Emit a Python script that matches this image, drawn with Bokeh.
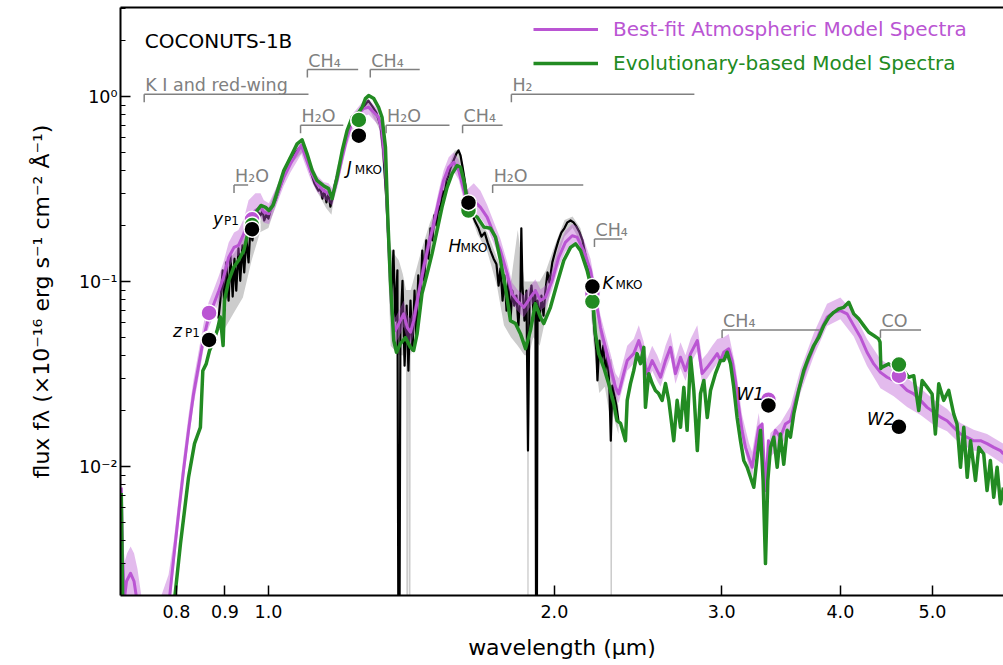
import numpy as np
from bokeh.plotting import figure
from bokeh.models import (ColumnDataSource, FixedTicker, CustomJSTickFormatter, Legend,
                          LegendItem, LinearAxis, Label)
from bokeh.core.properties import value
from bokeh.embed import file_html
from bokeh.resources import INLINE

# ---------------- data (wavelength in micron, flux in 1e-16 erg/s/cm2/A) ----------------
x_ticks = [0.8, 0.9, 1.0, 2.0, 3.0, 4.0, 5.0]
x_tick_labels = ["0.8", "0.9", "1.0", "2.0", "3.0", "4.0", "5.0"]
y_ticks = [0.01, 0.1, 1.0]
y_tick_labels = ["10\u207b\u00b2", "10\u207b\u00b9", "10\u2070"]

# evolutionary-based model spectrum (green)
evo_points = [
    (0.700, 0.0072), (0.703, 0.0014), (0.797, 0.00197), (0.808, 0.00382), (0.824, 0.00875),
    (0.836, 0.0133), (0.848, 0.0163), (0.853, 0.0330), (0.860, 0.0359), (0.867, 0.0424),
    (0.876, 0.0480), (0.883, 0.0543), (0.890, 0.0643), (0.896, 0.0451), (0.899, 0.0789),
    (0.908, 0.101), (0.919, 0.119), (0.930, 0.130), (0.942, 0.147), (0.951, 0.181),
    (0.961, 0.214), (0.973, 0.242), (0.982, 0.258), (0.993, 0.252), (1.001, 0.242),
    (1.011, 0.258), (1.025, 0.323), (1.038, 0.398), (1.055, 0.470), (1.072, 0.555),
    (1.085, 0.583), (1.098, 0.492), (1.112, 0.398), (1.125, 0.352), (1.143, 0.330),
    (1.157, 0.318), (1.167, 0.281), (1.181, 0.366), (1.196, 0.511), (1.210, 0.655),
    (1.225, 0.773), (1.245, 0.823), (1.255, 0.875), (1.265, 0.975), (1.275, 1.012),
    (1.291, 0.975), (1.306, 0.875), (1.317, 0.773), (1.328, 0.532), (1.335, 0.233),
    (1.344, 0.101), (1.355, 0.0480), (1.364, 0.0415), (1.377, 0.0462), (1.394, 0.0498),
    (1.411, 0.0441), (1.422, 0.0424), (1.434, 0.0523), (1.451, 0.0861), (1.469, 0.110),
    (1.487, 0.142), (1.505, 0.189), (1.523, 0.252), (1.542, 0.323), (1.561, 0.383),
    (1.580, 0.424), (1.593, 0.415), (1.606, 0.352), (1.619, 0.274), (1.638, 0.233),
    (1.659, 0.223), (1.686, 0.197), (1.713, 0.194), (1.734, 0.174), (1.755, 0.130),
    (1.776, 0.0932), (1.798, 0.0615), (1.820, 0.0593), (1.842, 0.0523), (1.865, 0.0434),
    (1.887, 0.0543), (1.910, 0.0760), (1.934, 0.0640), (1.949, 0.0593), (1.981, 0.0726),
    (2.013, 0.0976), (2.046, 0.130), (2.080, 0.153), (2.105, 0.160), (2.131, 0.147),
    (2.165, 0.115), (2.191, 0.0894), (2.209, 0.0523), (2.227, 0.0408), (2.254, 0.0344),
    (2.281, 0.0281), (2.309, 0.0220), (2.328, 0.0177), (2.348, 0.0171), (2.376, 0.0138),
    (2.386, 0.0228), (2.405, 0.0281), (2.424, 0.0330), (2.444, 0.0408), (2.464, 0.0360),
    (2.484, 0.0441), (2.494, 0.0209), (2.514, 0.0318), (2.535, 0.0281), (2.555, 0.0258),
    (2.575, 0.0248), (2.597, 0.0228), (2.618, 0.0281), (2.639, 0.0228), (2.671, 0.0138),
    (2.693, 0.0228), (2.715, 0.0163), (2.737, 0.0268), (2.759, 0.0157), (2.782, 0.0390),
    (2.804, 0.0258), (2.828, 0.0122), (2.850, 0.0248), (2.873, 0.0292), (2.897, 0.0184),
    (2.920, 0.0258), (2.955, 0.0318), (2.991, 0.0374), (3.015, 0.0374), (3.040, 0.0415),
    (3.065, 0.0360), (3.089, 0.0269), (3.114, 0.0185), (3.140, 0.0138), (3.165, 0.0108),
    (3.191, 0.00992), (3.217, 0.00875), (3.243, 0.00773), (3.269, 0.0112), (3.296, 0.0157),
    (3.317, 0.00840), (3.336, 0.00299), (3.355, 0.00840), (3.377, 0.0127), (3.404, 0.0144),
    (3.432, 0.00992), (3.459, 0.0150), (3.487, 0.0103), (3.516, 0.0157), (3.544, 0.0144),
    (3.573, 0.0193), (3.616, 0.0258), (3.660, 0.0330), (3.705, 0.0390), (3.750, 0.0451),
    (3.796, 0.0500), (3.842, 0.0578), (3.889, 0.0641), (3.937, 0.0682), (3.984, 0.0712),
    (4.033, 0.0726), (4.082, 0.0773), (4.132, 0.0669), (4.182, 0.0629), (4.233, 0.0578),
    (4.285, 0.0532), (4.337, 0.0511), (4.389, 0.0490), (4.404, 0.0470), (4.413, 0.0339),
    (4.422, 0.0344), (4.497, 0.0359), (4.552, 0.0344), (4.664, 0.0330), (4.721, 0.0304),
    (4.779, 0.0310), (4.837, 0.0201), (4.877, 0.0292), (4.936, 0.0269), (4.996, 0.0247),
    (5.036, 0.0150), (5.077, 0.0280), (5.138, 0.0228), (5.201, 0.0258), (5.264, 0.0193),
    (5.307, 0.0170), (5.352, 0.00992), (5.395, 0.0163), (5.440, 0.00875), (5.484, 0.0138),
    (5.550, 0.00840), (5.595, 0.0127), (5.662, 0.0117), (5.708, 0.00742), (5.754, 0.0108),
    (5.801, 0.00683), (5.849, 0.00992), (5.896, 0.00629), (5.939, 0.00770),
]

# best-fit atmospheric model spectrum (purple)
fit_points = [
    (0.700, 0.0077), (0.702, 0.0035), (0.705, 0.0019), (0.709, 0.0024), (0.716, 0.00265),
    (0.722, 0.0024), (0.727, 0.0019), (0.735, 0.0012), (0.787, 0.00197), (0.795, 0.00323),
    (0.805, 0.00578), (0.814, 0.00951), (0.824, 0.0157), (0.834, 0.0247), (0.845, 0.0359),
    (0.855, 0.0500), (0.865, 0.0641), (0.876, 0.0757), (0.887, 0.0894), (0.897, 0.1055),
    (0.908, 0.135), (0.920, 0.153), (0.930, 0.157), (0.942, 0.181), (0.953, 0.223),
    (0.969, 0.242), (0.981, 0.252), (0.989, 0.237), (1.001, 0.233), (1.017, 0.280),
    (1.038, 0.366), (1.055, 0.433), (1.083, 0.545), (1.107, 0.398), (1.125, 0.338),
    (1.143, 0.310), (1.157, 0.299), (1.167, 0.286), (1.181, 0.352), (1.196, 0.470),
    (1.210, 0.603), (1.225, 0.726), (1.245, 0.809), (1.259, 0.861), (1.275, 0.875),
    (1.291, 0.823), (1.306, 0.773), (1.317, 0.655), (1.328, 0.415), (1.339, 0.153),
    (1.349, 0.0669), (1.360, 0.0543), (1.377, 0.0615), (1.388, 0.0669), (1.400, 0.0566),
    (1.411, 0.0532), (1.422, 0.0615), (1.439, 0.0858), (1.457, 0.1195), (1.475, 0.160),
    (1.493, 0.205), (1.511, 0.274), (1.529, 0.352), (1.548, 0.415), (1.567, 0.441),
    (1.586, 0.398), (1.599, 0.338), (1.619, 0.263), (1.645, 0.274), (1.672, 0.252),
    (1.699, 0.223), (1.727, 0.181), (1.755, 0.147), (1.784, 0.110), (1.805, 0.0858),
    (1.827, 0.0789), (1.857, 0.0726), (1.887, 0.0822), (1.910, 0.0894), (1.934, 0.0789),
    (1.957, 0.0822), (1.989, 0.101), (2.021, 0.135), (2.054, 0.163), (2.088, 0.177),
    (2.113, 0.174), (2.147, 0.147), (2.183, 0.115), (2.209, 0.0822), (2.236, 0.0566),
    (2.263, 0.0441), (2.291, 0.0344), (2.319, 0.0269), (2.337, 0.0247), (2.366, 0.0318),
    (2.386, 0.0374), (2.424, 0.0408), (2.454, 0.0480), (2.484, 0.0390), (2.504, 0.0318),
    (2.535, 0.0374), (2.566, 0.0330), (2.587, 0.0304), (2.618, 0.0374), (2.650, 0.0441),
    (2.682, 0.0318), (2.715, 0.0390), (2.748, 0.0330), (2.782, 0.0408), (2.828, 0.0480),
    (2.861, 0.0318), (2.897, 0.0344), (2.932, 0.0374), (2.968, 0.0408), (2.991, 0.0374),
    (3.015, 0.0415), (3.052, 0.0433), (3.077, 0.0374), (3.102, 0.0292), (3.127, 0.0209),
    (3.152, 0.0157), (3.178, 0.0127), (3.204, 0.0112), (3.230, 0.00992), (3.256, 0.0127),
    (3.282, 0.0163), (3.309, 0.0170), (3.336, 0.00742), (3.360, 0.0138), (3.377, 0.0127),
    (3.418, 0.0157), (3.459, 0.0144), (3.501, 0.0170), (3.544, 0.0177), (3.587, 0.0228),
    (3.631, 0.0280), (3.690, 0.0359), (3.750, 0.0441), (3.811, 0.0543), (3.873, 0.0641),
    (3.937, 0.0682), (4.000, 0.0697), (4.066, 0.0669), (4.132, 0.0578), (4.200, 0.0500),
    (4.267, 0.0415), (4.337, 0.0359), (4.408, 0.0323), (4.480, 0.0304), (4.552, 0.0292),
    (4.627, 0.0280), (4.702, 0.0258), (4.779, 0.0247), (4.858, 0.0228), (4.936, 0.0209),
    (5.016, 0.0197), (5.099, 0.0185), (5.181, 0.0177), (5.264, 0.0163), (5.352, 0.0150),
    (5.440, 0.0144), (5.526, 0.0138), (5.618, 0.0138), (5.708, 0.0133), (5.801, 0.0127),
    (5.896, 0.0122), (5.939, 0.0117),
]

# uncertainty range of the best-fit model: (wavelength, low, high)
fit_band = [
    (0.700, 0.0060, 0.0092), (0.702, 0.0020, 0.0050), (0.705, 0.0012, 0.0030), (0.710, 0.0015, 0.0034),
    (0.716, 0.0018, 0.0037), (0.722, 0.0016, 0.0034), (0.728, 0.0012, 0.0028), (0.735, 0.0008, 0.0020),
    (0.745, 0.0006, 0.0012), (0.785, 0.0015, 0.0026), (0.795, 0.0028, 0.0040), (0.805, 0.0050, 0.0070),
    (0.814, 0.0083, 0.0115), (0.824, 0.0137, 0.0190), (0.834, 0.0215, 0.0295), (0.845, 0.031, 0.043),
    (0.855, 0.044, 0.060), (0.865, 0.056, 0.077), (0.876, 0.066, 0.091), (0.887, 0.078, 0.108),
    (0.897, 0.092, 0.128), (0.908, 0.118, 0.162), (0.920, 0.134, 0.184), (0.930, 0.138, 0.190),
    (0.942, 0.159, 0.218), (0.953, 0.196, 0.275), (0.969, 0.213, 0.300), (0.981, 0.222, 0.300),
    (0.989, 0.208, 0.275), (1.001, 0.205, 0.265), (1.017, 0.250, 0.315), (1.038, 0.330, 0.405),
    (1.055, 0.390, 0.480), (1.083, 0.490, 0.600), (1.107, 0.360, 0.440), (1.125, 0.305, 0.375),
    (1.143, 0.280, 0.345), (1.157, 0.268, 0.340), (1.167, 0.257, 0.320), (1.181, 0.318, 0.390),
    (1.196, 0.425, 0.520), (1.210, 0.545, 0.665), (1.225, 0.655, 0.800), (1.259, 0.780, 0.950),
    (1.275, 0.800, 0.960), (1.306, 0.700, 0.850), (1.328, 0.370, 0.460), (1.339, 0.137, 0.170),
    (1.349, 0.058, 0.076), (1.360, 0.046, 0.064), (1.377, 0.052, 0.072), (1.388, 0.057, 0.079),
    (1.400, 0.048, 0.066), (1.411, 0.045, 0.063), (1.422, 0.052, 0.071), (1.439, 0.075, 0.098),
    (1.457, 0.105, 0.137), (1.475, 0.142, 0.182), (1.493, 0.183, 0.232), (1.511, 0.245, 0.310),
    (1.529, 0.315, 0.398), (1.548, 0.372, 0.470), (1.567, 0.395, 0.500), (1.586, 0.355, 0.455),
    (1.599, 0.300, 0.390), (1.619, 0.232, 0.315), (1.645, 0.240, 0.340), (1.672, 0.220, 0.310),
    (1.699, 0.196, 0.260), (1.727, 0.160, 0.210), (1.755, 0.130, 0.170), (1.784, 0.097, 0.127),
    (1.805, 0.076, 0.099), (1.827, 0.070, 0.091), (1.857, 0.064, 0.084), (1.887, 0.073, 0.095),
    (1.910, 0.079, 0.103), (1.934, 0.070, 0.091), (1.957, 0.073, 0.095), (1.989, 0.090, 0.116),
    (2.021, 0.120, 0.155), (2.054, 0.145, 0.188), (2.088, 0.158, 0.205), (2.113, 0.155, 0.200),
    (2.147, 0.131, 0.170), (2.183, 0.102, 0.133), (2.209, 0.073, 0.095), (2.236, 0.050, 0.066),
    (2.263, 0.039, 0.052), (2.291, 0.030, 0.041), (2.319, 0.024, 0.032), (2.337, 0.022, 0.030),
    (2.366, 0.028, 0.038), (2.386, 0.033, 0.045), (2.424, 0.036, 0.049), (2.454, 0.042, 0.058),
    (2.484, 0.034, 0.047), (2.504, 0.028, 0.038), (2.535, 0.033, 0.045), (2.566, 0.029, 0.040),
    (2.587, 0.027, 0.036), (2.618, 0.033, 0.045), (2.650, 0.039, 0.053), (2.682, 0.028, 0.038),
    (2.715, 0.034, 0.047), (2.748, 0.029, 0.040), (2.782, 0.036, 0.049), (2.828, 0.042, 0.058),
    (2.861, 0.028, 0.038), (2.897, 0.030, 0.041), (2.932, 0.033, 0.045), (2.968, 0.036, 0.049),
    (3.015, 0.037, 0.050), (3.052, 0.038, 0.052), (3.102, 0.026, 0.035), (3.152, 0.014, 0.019),
    (3.204, 0.0099, 0.0135), (3.230, 0.0088, 0.0120), (3.282, 0.0145, 0.0195), (3.336, 0.0066, 0.0095),
    (3.377, 0.0113, 0.0152), (3.459, 0.0128, 0.0172), (3.544, 0.0158, 0.0212), (3.631, 0.0250, 0.0335),
    (3.750, 0.0395, 0.0525), (3.873, 0.0575, 0.0760), (4.000, 0.0625, 0.0820), (4.132, 0.0505, 0.0680),
    (4.267, 0.0350, 0.0490), (4.408, 0.0265, 0.0380), (4.552, 0.0240, 0.0340), (4.702, 0.0210, 0.0300),
    (4.858, 0.0190, 0.0265), (5.016, 0.0168, 0.0230), (5.181, 0.0155, 0.0205), (5.352, 0.0132, 0.0172),
    (5.526, 0.0122, 0.0158), (5.708, 0.0118, 0.0150), (5.939, 0.0103, 0.0133),
]

# observed spectrum (black)
obs_points = [
    (0.886, 0.0631), (0.890, 0.0789), (0.895, 0.115), (0.899, 0.0697), (0.903, 0.127),
    (0.908, 0.0789), (0.912, 0.138), (0.917, 0.0830), (0.921, 0.133), (0.925, 0.0894),
    (0.930, 0.151), (0.934, 0.101), (0.939, 0.157), (0.943, 0.112), (0.948, 0.171),
    (0.953, 0.127), (0.957, 0.189), (0.962, 0.167), (0.967, 0.209), (0.971, 0.194),
    (0.976, 0.236), (0.981, 0.228), (0.986, 0.242), (0.990, 0.214), (0.995, 0.230),
    (1.000, 0.219), (1.005, 0.242), (1.017, 0.274), (1.030, 0.330), (1.042, 0.388),
    (1.055, 0.440), (1.068, 0.498), (1.081, 0.537), (1.088, 0.550), (1.096, 0.498),
    (1.107, 0.398), (1.118, 0.339), (1.129, 0.310), (1.134, 0.318), (1.140, 0.281),
    (1.145, 0.310), (1.151, 0.268), (1.157, 0.303), (1.162, 0.254), (1.168, 0.281),
    (1.174, 0.330), (1.185, 0.398), (1.196, 0.498), (1.208, 0.608), (1.220, 0.715),
    (1.235, 0.789), (1.250, 0.840), (1.265, 0.905), (1.274, 0.951), (1.287, 0.883),
    (1.299, 0.819), (1.312, 0.697), (1.321, 0.511), (1.331, 0.274), (1.341, 0.130),
    (1.347, 0.0789), (1.354, 0.147), (1.360, 0.0615), (1.367, 0.115), (1.372, 0.0001),
    (1.377, 0.0543), (1.384, 0.101), (1.391, 0.0351), (1.398, 0.0742), (1.404, 0.0330),
    (1.411, 0.0789), (1.418, 0.0424), (1.425, 0.0894), (1.431, 0.0511), (1.438, 0.108),
    (1.445, 0.0742), (1.452, 0.147), (1.459, 0.101), (1.466, 0.167), (1.474, 0.133),
    (1.481, 0.194), (1.488, 0.167), (1.495, 0.228), (1.503, 0.201), (1.510, 0.258),
    (1.517, 0.242), (1.525, 0.310), (1.532, 0.292), (1.540, 0.352), (1.547, 0.374),
    (1.554, 0.408), (1.566, 0.451), (1.577, 0.492), (1.585, 0.511), (1.593, 0.480),
    (1.600, 0.424), (1.608, 0.361), (1.616, 0.303), (1.628, 0.258), (1.640, 0.228),
    (1.652, 0.209), (1.664, 0.194), (1.676, 0.175), (1.689, 0.184), (1.701, 0.163),
    (1.713, 0.147), (1.726, 0.133), (1.738, 0.124), (1.747, 0.0952), (1.755, 0.118),
    (1.764, 0.0789), (1.772, 0.108), (1.781, 0.0697), (1.789, 0.101), (1.798, 0.0615),
    (1.806, 0.0894), (1.815, 0.0742), (1.824, 0.0840), (1.833, 0.0578), (1.842, 0.0894),
    (1.846, 0.194), (1.851, 0.0952), (1.860, 0.0615), (1.869, 0.0894), (1.876, 0.0122),
    (1.883, 0.0789), (1.892, 0.0952), (1.901, 0.0697), (1.910, 0.0894), (1.915, 0.0001),
    (1.920, 0.0789), (1.929, 0.0615), (1.938, 0.0840), (1.948, 0.0655), (1.957, 0.0894),
    (1.967, 0.112), (1.976, 0.0988), (1.990, 0.127), (2.005, 0.147), (2.020, 0.167),
    (2.034, 0.184), (2.049, 0.194), (2.064, 0.209), (2.080, 0.214), (2.095, 0.209),
    (2.110, 0.198), (2.126, 0.184), (2.141, 0.167), (2.157, 0.138), (2.172, 0.118),
    (2.183, 0.101), (2.193, 0.0789), (2.204, 0.0543), (2.214, 0.0424), (2.220, 0.0292),
    (2.231, 0.0480), (2.241, 0.0374), (2.252, 0.0451), (2.263, 0.0330), (2.274, 0.0398),
    (2.285, 0.0274), (2.293, 0.0138), (2.302, 0.0274), (2.313, 0.0242), (2.324, 0.0214),
    (2.336, 0.0177),
]

# observational uncertainty envelope (grey): (wavelength, low, high)
obs_err = [
    (0.884, 0.0543, 0.0789), (0.900, 0.0560, 0.128), (0.920, 0.0680, 0.142), (0.940, 0.0820, 0.170),
    (0.960, 0.130, 0.205), (0.980, 0.185, 0.245), (1.000, 0.195, 0.250), (1.050, 0.42, 0.47),
    (1.090, 0.51, 0.57), (1.120, 0.32, 0.35), (1.150, 0.25, 0.32), (1.165, 0.23, 0.29),
    (1.180, 0.35, 0.41), (1.220, 0.68, 0.74), (1.270, 0.90, 0.98), (1.310, 0.66, 0.72),
    (1.330, 0.25, 0.29), (1.345, 0.045, 0.15), (1.372, 0.040, 0.13), (1.385, 0.040, 0.11),
    (1.396, 0.036, 0.09), (1.398, 0.0001, 0.09), (1.402, 0.0001, 0.09), (1.404, 0.036, 0.09),
    (1.407, 0.0001, 0.09), (1.410, 0.0001, 0.09), (1.412, 0.040, 0.09),
    (1.420, 0.045, 0.10), (1.450, 0.085, 0.15), (1.480, 0.14, 0.21), (1.510, 0.21, 0.27),
    (1.540, 0.31, 0.39), (1.570, 0.41, 0.51), (1.590, 0.43, 0.52), (1.620, 0.26, 0.32),
    (1.660, 0.18, 0.22), (1.700, 0.145, 0.185), (1.740, 0.095, 0.135), (1.770, 0.058, 0.11),
    (1.800, 0.050, 0.10), (1.830, 0.045, 0.19), (1.860, 0.040, 0.10), (1.872, 0.040, 0.10),
    (1.874, 0.0001, 0.10), (1.878, 0.0001, 0.10), (1.880, 0.040, 0.10), (1.900, 0.050, 0.10),
    (1.930, 0.045, 0.10), (1.960, 0.065, 0.115), (2.000, 0.12, 0.155), (2.050, 0.175, 0.215),
    (2.090, 0.195, 0.225), (2.130, 0.165, 0.195), (2.170, 0.105, 0.135), (2.200, 0.045, 0.080),
    (2.230, 0.025, 0.055), (2.260, 0.027, 0.048), (2.290, 0.018, 0.038), (2.293, 0.0001, 0.038),
    (2.298, 0.0001, 0.038), (2.301, 0.020, 0.034), (2.320, 0.017, 0.029), (2.336, 0.015, 0.021),
]

# photometry
phot_wave = [0.866, 0.961, 1.245, 1.624, 2.193, 3.360, 4.610]
obs_phot = [0.0484, 0.192, 0.615, 0.267, 0.094, 0.0214, 0.0164]
fit_phot = [0.0677, 0.217, 0.735, 0.258, 0.086, 0.0230, 0.0310]
evo_phot = [0.0490, 0.202, 0.748, 0.242, 0.078, 0.0214, 0.0356]
phot_main = ["z", "y", "J", "H", "K", "W1", "W2"]
phot_sub = ["P1", "P1", "MKO", "MKO", "MKO", "", ""]

# molecular / atomic absorption features
feat_labels = ["K I and red-wing", "CH\u2084", "CH\u2084", "H\u2082O", "H\u2082O", "CH\u2084",
               "H\u2082", "H\u2082O", "H\u2082O", "CH\u2084", "CH\u2084", "CO"]
feat_x0 = [0.740, 1.099, 1.280, 1.081, 1.330, 1.601, 1.802, 0.920, 1.722, 2.204, 3.003, 4.408]
feat_x1 = [1.102, 1.243, 1.443, 1.199, 1.551, 1.764, 2.808, 0.952, 2.145, 2.357, 3.804, 4.864]
feat_y = [1.03, 1.40, 1.40, 0.70, 0.70, 0.70, 1.03, 0.333, 0.333, 0.170, 0.0548, 0.0548]

# ---------------- styling ----------------
FONT = "DejaVu Sans"
PURPLE = "mediumorchid"
GREEN = "forestgreen"
FEAT = "#808080"

p = figure(width=1003, height=665, x_axis_type="log", y_axis_type="log",
           x_range=(0.6987, 5.94), y_range=(0.00201, 3.03),
           output_backend="svg", toolbar_location=None,
           min_border_left=120, min_border_right=0, min_border_top=7, min_border_bottom=70)
p.xgrid.visible = False
p.ygrid.visible = False
p.outline_line_color = None
p.background_fill_color = "white"
p.border_fill_color = "white"

xb = p.below[0]
yl = p.left[0]

LOOKUP = """
for (let i = 0; i < tv.length; i++) { if (Math.abs(tick - tv[i]) <= 1e-6 * tv[i]) return tl[i]; }
return "";
"""
xb.ticker = FixedTicker(ticks=x_ticks, minor_ticks=[])
xb.formatter = CustomJSTickFormatter(args=dict(tv=x_ticks, tl=x_tick_labels), code=LOOKUP)
y_minor = [m * 10.0 ** e for e in (-3, -2, -1, 0) for m in range(2, 10)]
yl.ticker = FixedTicker(ticks=y_ticks, minor_ticks=y_minor)
yl.formatter = CustomJSTickFormatter(args=dict(tv=y_ticks, tl=y_tick_labels), code=LOOKUP)

for ax in (xb, yl):
    ax.axis_line_width = 2
    ax.axis_line_color = "black"
    ax.major_tick_in = 10
    ax.major_tick_out = 0
    ax.minor_tick_in = 5
    ax.minor_tick_out = 0
    ax.major_tick_line_width = 1.5
    ax.minor_tick_line_width = 1.2
    ax.major_tick_line_color = "black"
    ax.minor_tick_line_color = "black"
    ax.major_label_text_font = FONT
    ax.major_label_text_font_size = "17.5px"
    ax.major_label_text_color = "black"
    ax.axis_label_text_font = FONT
    ax.axis_label_text_font_size = "22px"
    ax.axis_label_text_font_style = "normal"
    ax.axis_label_text_color = "black"

xb.axis_label = "wavelength (\u03bcm)"
xb.major_label_standoff = 9
xb.axis_label_standoff = 14
yl.axis_label = "flux f\u03bb (\u00d710\u207b\u00b9\u2076 erg s\u207b\u00b9 cm\u207b\u00b2 \u00c5\u207b\u00b9)"
yl.major_label_standoff = 3
yl.axis_label_standoff = 22

# top spine (an empty axis)
top = LinearAxis(ticker=FixedTicker(ticks=[], minor_ticks=[]), axis_line_width=2, axis_line_color="black",
                 major_tick_in=0, major_tick_out=0, minor_tick_in=0, minor_tick_out=0,
                 major_label_text_font_size="0px", major_label_standoff=0, axis_label=None)
p.add_layout(top, "above")

# ---------------- glyphs ----------------
err_src = ColumnDataSource(dict(w=[r[0] for r in obs_err], lo=[r[1] for r in obs_err],
                                hi=[r[2] for r in obs_err]))
p.varea(x="w", y1="lo", y2="hi", source=err_src, fill_color="#cccccc")

obs_src = ColumnDataSource(dict(w=[r[0] for r in obs_points], f=[r[1] for r in obs_points]))
p.line(x="w", y="f", source=obs_src, line_color="black", line_width=2.2, line_join="round")

band_src = ColumnDataSource(dict(w=[r[0] for r in fit_band], lo=[r[1] for r in fit_band],
                                 hi=[r[2] for r in fit_band]))
p.varea(x="w", y1="lo", y2="hi", source=band_src, fill_color=PURPLE, fill_alpha=0.4)

fit_src = ColumnDataSource(dict(w=[r[0] for r in fit_points], f=[r[1] for r in fit_points]))
fit_r = p.line(x="w", y="f", source=fit_src, line_color=PURPLE, line_width=3, line_join="round")

evo_src = ColumnDataSource(dict(w=[r[0] for r in evo_points], f=[r[1] for r in evo_points]))
evo_r = p.line(x="w", y="f", source=evo_src, line_color=GREEN, line_width=3.5, line_join="round")

# feature annotations
feat_src = ColumnDataSource(dict(label=feat_labels, x0=feat_x0, x1=feat_x1, y=feat_y))
p.segment(x0="x0", y0="y", x1="x1", y1="y", source=feat_src, line_color=FEAT, line_width=1.5)
p.ray(x="x0", y="y", length=8, length_units="screen", angle=-np.pi / 2, source=feat_src,
      line_color=FEAT, line_width=1.5)
p.text(x="x0", y="y", text="label", source=feat_src, x_offset=1, y_offset=-9,
       text_font=value(FONT), text_font_size="17.5px", text_color=FEAT,
       text_baseline="alphabetic", text_align="left")

# photometric points
p.scatter(phot_wave, fit_phot, size=16, fill_color=PURPLE, line_color="white", line_width=1.5)
p.scatter(phot_wave, evo_phot, size=16, fill_color=GREEN, line_color="white", line_width=1.5)
p.scatter(phot_wave, obs_phot, size=16, fill_color="black", line_color="white", line_width=1.5)

# band labels next to the observed photometry
main_dx = [-36, -39, -12, -20, 10, -32, -32]
main_dy = [-9, -10, 32, 43, -4, -11, -8]
sub_dx = [-24, -28, -4, -8, 23, 0, 0]
sub_dy = [-7, -8, 34, 45, -2, 0, 0]
lab_src = ColumnDataSource(dict(x=phot_wave, y=obs_phot, main=phot_main, sub=phot_sub,
                                mdx=main_dx, mdy=main_dy, sdx=sub_dx, sdy=sub_dy))
p.text(x="x", y="y", text="main", source=lab_src, x_offset="mdx", y_offset="mdy",
       text_font=value(FONT), text_font_size="17px", text_font_style="italic",
       text_color="black", text_baseline="alphabetic", text_align="left")
p.text(x="x", y="y", text="sub", source=lab_src, x_offset="sdx", y_offset="sdy",
       text_font=value(FONT), text_font_size="12px",
       text_color="black", text_baseline="alphabetic", text_align="left")

# object name
p.add_layout(Label(x=0.741, y=1.99, text="COCONUTS-1B", text_font=FONT, text_font_size="20px",
                   text_color="black", text_baseline="alphabetic"))

# legends (two, so that each label takes the colour of its line)
for rend, lab, col, yloc in ((fit_r, "Best-fit Atmospheric Model Spectra", PURPLE, 554),
                             (evo_r, "Evolutionary-based Model Spectra", GREEN, 520)):
    leg = Legend(items=[LegendItem(label=lab, renderers=[rend])], location=(413, yloc),
                 padding=0, margin=0, spacing=0, glyph_width=65, glyph_height=20,
                 label_height=20, label_standoff=15, border_line_color=None,
                 background_fill_alpha=0, label_text_font=FONT, label_text_font_size="20px",
                 label_text_color=col)
    p.add_layout(leg)

open("out.html", "w").write(file_html(p, INLINE))
